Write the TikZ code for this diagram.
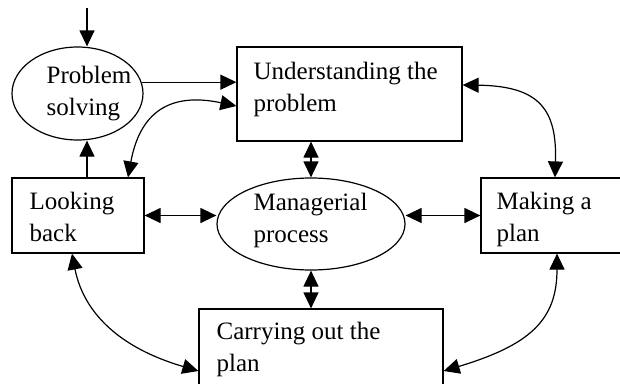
\documentclass[tikz,border=0pt]{standalone}
\usepackage{fontspec}
\setmainfont{Liberation Serif}
\usetikzlibrary{arrows.meta,shapes.geometric,calc}
\begin{document}
\begin{tikzpicture}[x=1pt,y=-1pt,
  line width=1.2pt,
  tip/.tip={Triangle[length=16pt,width=15pt]},
  conn/.style={-tip},
  dconn/.style={tip-tip},
  boxshape/.style={draw,rectangle,inner sep=0pt},
  ellshape/.style={draw,ellipse,inner sep=0pt},
  lbl/.style={inner sep=0pt,anchor=base west,align=left,font=\fontsize{25}{32}\selectfont}]
\useasboundingbox (0,0) rectangle (620,383);
% shapes
\node[ellshape,minimum width=131pt,minimum height=93pt] (ps) at (77.5,93.5) {};
\node[boxshape,minimum width=225pt,minimum height=94pt] (ub) at (349.5,94) {};
\node[boxshape,minimum width=132pt,minimum height=75pt] (lb) at (78,215.5) {};
\node[ellshape,minimum width=188pt,minimum height=92pt] (mp) at (311,224) {};
\node[boxshape,minimum width=160pt,minimum height=75pt] (mk) at (561,215.5) {};
\node[boxshape,minimum width=244pt,minimum height=100pt] (cp) at (321,359) {};
% labels (anchored at the baseline of the last line)
\node[lbl] (tps) at (46,115) {Problem\\solving};
\node[lbl] (tub) at (253,111) {Understanding the\\problem};
\node[lbl] (tlb) at (29,241) {Looking\\back};
\node[lbl] (tmp) at (253,242) {Managerial\\process};
\node[lbl] (tmk) at (496,241) {Making a\\plan};
\node[lbl] (tcp) at (216,371) {Carrying out the\\plan};
% connectors
\coordinate (top) at (87,8);
\draw[conn] (top) -- (top |- ps.north);
\draw[conn] (ps.10) -- (ps.10 -| ub.west);
\draw[conn] (top |- lb.north) -- (top |- ps.south);
\draw[dconn] ([yshift=-12pt]ub.west) .. controls (170,92) and (140,112) .. ([xshift=50pt]lb.north);
\draw[dconn] ([yshift=9pt]ub.east) .. controls (540,86) and (557,110) .. ([xshift=-6pt]mk.north);
\draw[dconn] (mp.north |- ub.south) -- (mp.north);
\draw[dconn] (lb.east) -- (lb.east -| mp.west);
\draw[dconn] (mk.west -| mp.east) -- (mk.west);
\draw[dconn] (mp.south) -- (mp.south |- cp.north);
\draw[dconn] ([xshift=-6pt]lb.south) .. controls (82,305) and (110,345) .. ([yshift=-12pt]cp.west);
\draw[dconn] ([yshift=-12pt]cp.east) .. controls (530,345) and (557,320) .. ([xshift=-4pt]mk.south);
\end{tikzpicture}
\end{document}
